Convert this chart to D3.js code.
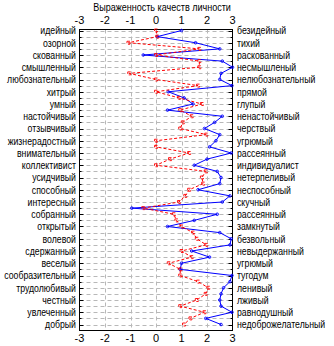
<!DOCTYPE html>
<html><head><meta charset="utf-8">
<script src="https://cdn.jsdelivr.net/npm/d3@7"></script>
<style>
body{margin:0;background:#fff}
svg{display:block}
text{font-family:"Liberation Sans",Arial,sans-serif;fill:#000}
</style>
</head><body>
<svg id="c" width="334" height="346"></svg>
<script>
const title = "Выраженность качеств личности";
const leftLabels = ["идейный","озорной","скованный","смышленный","любознательный","хитрый","умный","настойчивый","отзывчивый","жизнерадостный","внимательный","коллективист","усидчивый","способный","интересный","собранный","открытый","волевой","сдержанный","веселый","сообразительный","трудолюбивый","честный","увлеченный","добрый"];
const rightLabels = ["безидейный","тихий","раскованный","несмышленый","нелюбознательный","прямой","глупый","ненастойчивый","черствый","угрюмый","рассеянный","индивидуалист","нетерпеливый","неспособный","скучный","рассеянный","замкнутый","безвольный","невыдержанный","угрюмый","тугодум","ленивый","лживый","равнодушный","недоброжелательный"];
const xTicks = [-3,-2,-1,0,1,2,3];
const blueValues = [1.0,0.05,1.55,2.5,-0.5,2.6,3.0,2.55,2.5,2.98,0.48,1.1,1.45,0.45,2.6,2.3,1.9,2.5,2.35,2.1,2.95,2.0,1.5,2.4,2.55,2.5,1.65,2.9,2.6,-0.95,2.4,1.5,0.45,2.5,2.95,2.9,1.4,2.1,1.0,0.95,2.98,2.9,2.65,2.55,2.5,2.55,2.98,1.95,2.55];
const redValues = [0.0,0.05,-1.08,1.7,0.0,1.7,1.7,-1.05,0.0,1.65,0.0,0.9,1.8,0.95,1.4,1.05,0.95,1.97,0.0,0.0,1.3,0.55,0.0,1.95,1.8,1.85,1.3,1.15,0.9,-0.5,0.7,0.8,1.0,1.45,1.6,1.97,1.0,1.4,0.5,0.95,0.95,1.65,2.05,1.95,1.6,0.95,1.9,1.35,1.1];

const svg = d3.select("#c");
const L = 79.5, R = 232.5, T = 29.5, B = 330.5;
const x = d3.scaleLinear().domain([-3,3]).range([L,R]);
const nPts = blueValues.length;
const y = d3.scaleLinear().domain([0,nPts-1]).range([30.5,324.5]);

function measure(str, size){
  const t = svg.append("text").attr("font-size",size).text(str);
  const w = t.node().getComputedTextLength(); t.remove(); return w;
}
const FS = 11;
const labelScale = 69 / measure("любознательный", FS);
const titleScale = 138 / measure(title, FS);

// title
svg.append("g").attr("transform",`translate(162,11) scale(${titleScale},1)`)
  .append("text").attr("text-anchor","middle").attr("font-size",FS).text(title);

// gridlines
const g = svg.append("g");
const halfRows = d3.range(0,nPts);
g.selectAll("line.h").data(halfRows).join("line")
  .attr("x1",L).attr("x2",R).attr("y1",d=>Math.round(y(d))+0.5).attr("y2",d=>Math.round(y(d))+0.5)
  .attr("stroke","#b8b8b8").attr("stroke-dasharray","4,3");
g.selectAll("line.v").data(xTicks.filter(d=>d>-3&&d<3)).join("line")
  .attr("x1",d=>Math.round(x(d))+0.5).attr("x2",d=>Math.round(x(d))+0.5).attr("y1",T).attr("y2",B)
  .attr("stroke","#b8b8b8").attr("stroke-dasharray","4,3");

// frame
svg.append("rect").attr("x",L).attr("y",T).attr("width",R-L).attr("height",B-T)
  .attr("fill","none").attr("stroke","#000");

// y ticks (inside)
svg.selectAll("line.yt").data(halfRows).join("line")
  .attr("x1",L).attr("x2",d=>L+(d%2===0?4:2))
  .attr("y1",d=>Math.round(y(d))+0.5).attr("y2",d=>Math.round(y(d))+0.5).attr("stroke","#000");
svg.selectAll("line.yt2").data(halfRows).join("line")
  .attr("x1",R).attr("x2",d=>R-(d%2===0?4:2))
  .attr("y1",d=>Math.round(y(d))+0.5).attr("y2",d=>Math.round(y(d))+0.5).attr("stroke","#000");

// x tick labels top & bottom
[24,342].forEach(yy=>{
  svg.append("g").selectAll("text").data(xTicks).join("text")
    .attr("x",d=>x(d)).attr("y",yy).attr("text-anchor","middle").attr("font-size",FS)
    .text(d=>d);
});

// labels
svg.append("g").attr("transform",`translate(76,0) scale(${labelScale},1)`)
  .selectAll("text").data(leftLabels).join("text")
  .attr("x",0).attr("y",(d,i)=>y(i*2)+4).attr("text-anchor","end").attr("font-size",FS)
  .text(d=>d);
svg.append("g").attr("transform",`translate(237,0) scale(${labelScale},1)`)
  .selectAll("text").data(rightLabels).join("text")
  .attr("x",0).attr("y",(d,i)=>y(i*2)+4).attr("text-anchor","start").attr("font-size",FS)
  .text(d=>d);

const line = d3.line().x(d=>x(d[0])).y(d=>y(d[1]));
const bluePts = blueValues.map((v,i)=>[v,i]);
const redPts = redValues.map((v,i)=>[v,i]);

svg.append("path").attr("d",line(bluePts)).attr("fill","none").attr("stroke","#0000ff").attr("stroke-width",1);
svg.append("g").selectAll("circle").data(bluePts).join("circle")
  .attr("cx",d=>x(d[0])).attr("cy",d=>y(d[1])).attr("r",1.3)
  .attr("fill","none").attr("stroke","#0000ff").attr("stroke-width",0.9);

svg.append("path").attr("d",line(redPts)).attr("fill","none").attr("stroke","#ff0000")
  .attr("stroke-width",1).attr("stroke-dasharray","3,2");
svg.append("g").selectAll("rect").data(redPts).join("rect")
  .attr("x",d=>x(d[0])-1.5).attr("y",d=>y(d[1])-1.5).attr("width",3).attr("height",3)
  .attr("fill","none").attr("stroke","#ff0000").attr("stroke-width",0.9).attr("stroke-dasharray","3,2");
</script>
</body></html>
